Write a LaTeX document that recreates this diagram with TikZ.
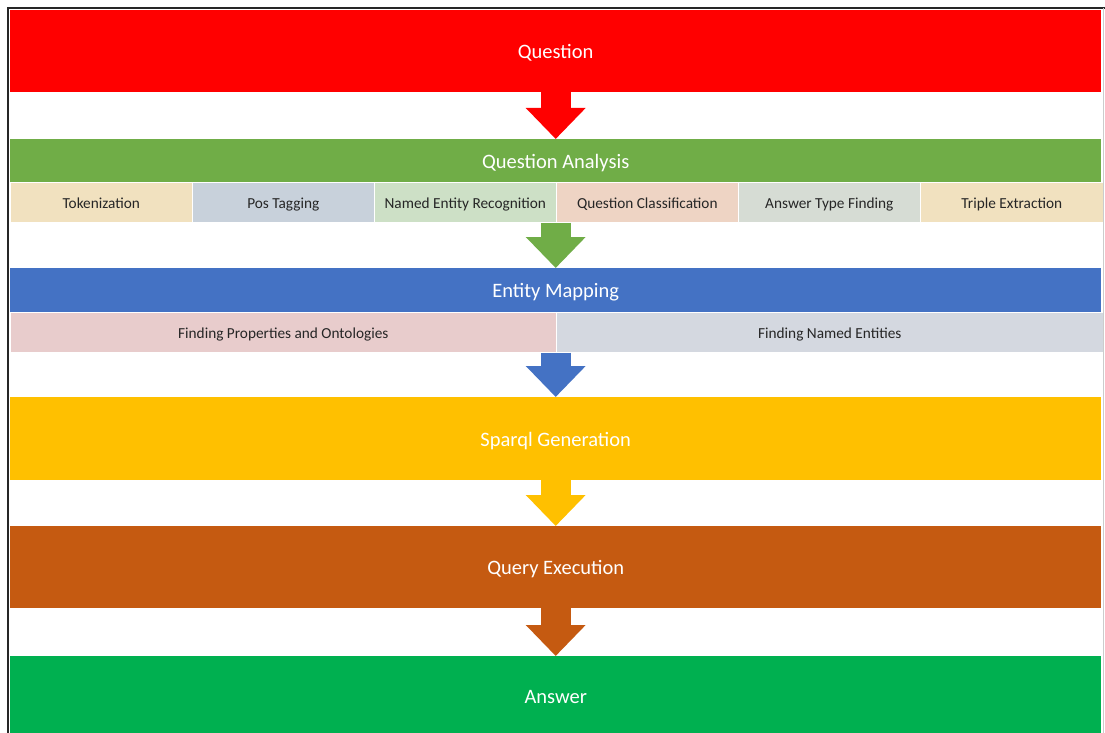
\documentclass[tikz,border=0pt]{standalone}
\usepackage{fontspec}
\setmainfont{Carlito}
\usetikzlibrary{arrows.meta}
\definecolor{cRed}{HTML}{FF0000}
\definecolor{cGreen}{HTML}{70AD47}
\definecolor{cBlue}{HTML}{4472C4}
\definecolor{cGold}{HTML}{FFC000}
\definecolor{cBrown}{HTML}{C55A11}
\definecolor{cAns}{HTML}{00B050}
\definecolor{sTan}{HTML}{F1E1BF}
\definecolor{sSteel}{HTML}{C8D1DB}
\definecolor{sSage}{HTML}{CDE0C6}
\definecolor{sPeach}{HTML}{EED4C4}
\definecolor{sGrey}{HTML}{D6DCD4}
\definecolor{sRose}{HTML}{E8CCCC}
\definecolor{sSlate}{HTML}{D4D8E0}
\definecolor{txt}{HTML}{262626}
\tikzset{
  band/.style={anchor=north west, inner sep=0pt, minimum width=1091pt, text=white,
    text height=16pt, text depth=1pt, font=\fontsize{20.5}{24}\selectfont},
  sub/.style={anchor=north west, inner sep=0pt, minimum height=40pt, text=txt,
    text height=15pt, text depth=3pt,
    draw=white, line width=0.6pt, font=\fontsize{15.3}{18}\selectfont},
  flow/.style={draw=#1, line width=30pt, -{Triangle[width=58pt,length=31pt]}},
}
\begin{document}
\begin{tikzpicture}[x=1pt,y=-1pt]
\useasboundingbox (0,0) rectangle (1105,733);
\fill[white] (0,0) rectangle (1105,733);
\clip (0,0) rectangle (1105,733);
% bands
\node[band, fill=cRed, minimum height=82pt] (q) at (10,10) {Question};
\node[band, fill=cGreen, minimum height=43pt] (qa) at (10,139) {Question Analysis};
\node[sub, fill=sTan, minimum width=182pt] (t1) at (10,182) {Tokenization};
\node[sub, fill=sSteel, minimum width=182pt] (t2) at (192,182) {Pos Tagging};
\node[sub, fill=sSage, minimum width=182pt] (t3) at (374,182) {Named Entity Recognition};
\node[sub, fill=sPeach, minimum width=182pt] (t4) at (556,182) {Question Classification};
\node[sub, fill=sGrey, minimum width=182pt] (t5) at (738,182) {Answer Type Finding};
\node[sub, fill=sTan, minimum width=183pt] (t6) at (920,182) {Triple Extraction};
\node[band, fill=cBlue, minimum height=44pt] (em) at (10,268) {Entity Mapping};
\node[sub, fill=sRose, minimum width=546pt] (m1) at (10,312) {Finding Properties and Ontologies};
\node[sub, fill=sSlate, minimum width=547pt] (m2) at (556,312) {Finding Named Entities};
\node[band, fill=cGold, minimum height=83pt] (sg) at (10,397) {Sparql Generation};
\node[band, fill=cBrown, minimum height=82pt] (qx) at (10,526) {Query Execution};
\node[band, fill=cAns, minimum height=80pt] (ans) at (10,656) {Answer};
% arrows
\draw[flow=cRed] (q.south) -- (qa.north);
\draw[flow=cGreen] (qa.south |- t1.south) -- (em.north);
\draw[flow=cBlue] (em.south |- m1.south) -- (sg.north);
\draw[flow=cGold] (sg.south) -- (qx.north);
\draw[flow=cBrown] (qx.south) -- (ans.north);
% frame
\draw[black!85, line width=2pt] (7.8,733) -- (7.8,7.8) -- (1105,7.8);
\draw[black!20, line width=0.8pt] (1103.5,8.5) -- (1103.5,733);
\end{tikzpicture}
\end{document}
